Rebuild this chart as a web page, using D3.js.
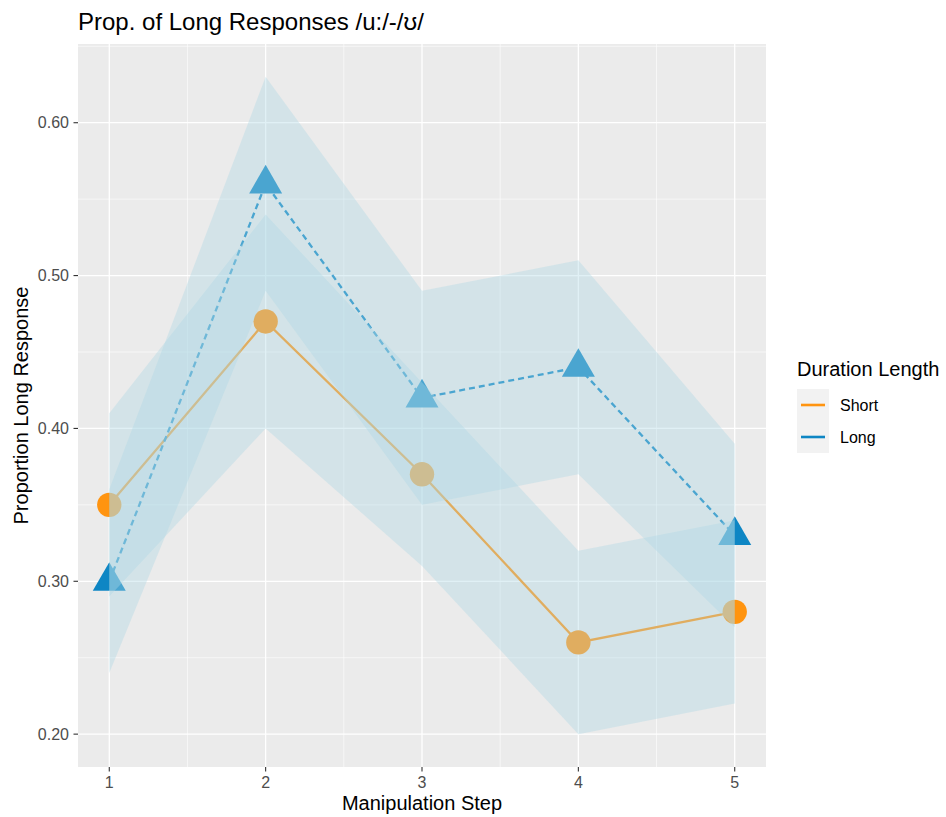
<!DOCTYPE html>
<html>
<head>
<meta charset="utf-8">
<script src="https://cdn.jsdelivr.net/npm/d3@7"></script>
<style>
  html, body { margin: 0; padding: 0; background: #ffffff; }
  svg { display: block; font-family: "Liberation Sans", Arial, Helvetica, sans-serif; }
</style>
</head>
<body>
<svg id="chart" width="946" height="817"></svg>
<script>
// Manipulation steps and proportion of "long" responses per duration condition
const steps = [1, 2, 3, 4, 5];
const shortMean  = [0.35, 0.47, 0.37, 0.26, 0.28];
const shortLower = [0.29, 0.40, 0.31, 0.20, 0.22];
const shortUpper = [0.41, 0.54, 0.43, 0.32, 0.34];
const longMean   = [0.30, 0.56, 0.42, 0.44, 0.33];
const longLower  = [0.24, 0.49, 0.35, 0.37, 0.27];
const longUpper  = [0.36, 0.63, 0.49, 0.51, 0.39];
const yTicks = [0.20, 0.30, 0.40, 0.50, 0.60];
const yMinor = [0.25, 0.35, 0.45, 0.55, 0.65];
const xMinor = [1.5, 2.5, 3.5, 4.5];
const seriesNames = ["Short", "Long"];

const colShort = "#FF9410";
const colLong = "#0E86C4";

const svg = d3.select("#chart");
const panel = { left: 78, right: 766, top: 44, bottom: 767 };

// ggplot-style 5% expansion around the data range
const allVals = shortLower.concat(shortUpper, longLower, longUpper, shortMean, longMean);
const yMin = d3.min(allVals), yMax = d3.max(allVals);
const yPad = (yMax - yMin) * 0.05;
const xPad = (d3.max(steps) - d3.min(steps)) * 0.05;

const x = d3.scaleLinear()
  .domain([d3.min(steps) - xPad, d3.max(steps) + xPad])
  .range([panel.left, panel.right]);
const y = d3.scaleLinear()
  .domain([yMin - yPad, yMax + yPad])
  .range([panel.bottom, panel.top]);

// panel background
svg.append("rect")
  .attr("x", panel.left).attr("y", panel.top)
  .attr("width", panel.right - panel.left)
  .attr("height", panel.bottom - panel.top)
  .attr("fill", "#EBEBEB");

const grid = svg.append("g");
grid.selectAll(".ym").data(yMinor.filter(v => v <= y.domain()[1])).join("line")
  .attr("x1", panel.left).attr("x2", panel.right)
  .attr("y1", d => y(d)).attr("y2", d => y(d))
  .attr("stroke", "#ffffff").attr("stroke-width", 0.6);
grid.selectAll(".xm").data(xMinor).join("line")
  .attr("y1", panel.top).attr("y2", panel.bottom)
  .attr("x1", d => x(d)).attr("x2", d => x(d))
  .attr("stroke", "#ffffff").attr("stroke-width", 0.6);
grid.selectAll(".yM").data(yTicks).join("line")
  .attr("x1", panel.left).attr("x2", panel.right)
  .attr("y1", d => y(d)).attr("y2", d => y(d))
  .attr("stroke", "#ffffff").attr("stroke-width", 1.3);
grid.selectAll(".xM").data(steps).join("line")
  .attr("y1", panel.top).attr("y2", panel.bottom)
  .attr("x1", d => x(d)).attr("x2", d => x(d))
  .attr("stroke", "#ffffff").attr("stroke-width", 1.3);

const series = [
  { name: "Short", mean: shortMean, lo: shortLower, hi: shortUpper, color: colShort, dash: null, shape: "circle" },
  { name: "Long", mean: longMean, lo: longLower, hi: longUpper, color: colLong, dash: "6,4", shape: "triangle" }
];

const line = d3.line().x(d => x(d.s)).y(d => y(d.v));
const area = d3.area().x(d => x(d.s)).y0(d => y(d.lo)).y1(d => y(d.hi));

// lines
series.forEach(s => {
  svg.append("path")
    .datum(steps.map((st, i) => ({ s: st, v: s.mean[i] })))
    .attr("d", line)
    .attr("fill", "none")
    .attr("stroke", s.color)
    .attr("stroke-width", 2.3)
    .attr("stroke-dasharray", s.dash);
});

// points
const triSide = 33, triH = triSide * Math.sqrt(3) / 2;
series.forEach(s => {
  const pts = steps.map((st, i) => ({ s: st, v: s.mean[i] }));
  if (s.shape === "circle") {
    svg.append("g").selectAll("circle").data(pts).join("circle")
      .attr("cx", d => x(d.s)).attr("cy", d => y(d.v)).attr("r", 12.2)
      .attr("fill", s.color);
  } else {
    svg.append("g").selectAll("path").data(pts).join("path")
      .attr("transform", d => `translate(${x(d.s)},${y(d.v)})`)
      .attr("d", `M0,${-2 * triH / 3}L${triSide / 2},${triH / 3}L${-triSide / 2},${triH / 3}Z`)
      .attr("fill", s.color);
  }
});

// confidence ribbons drawn over the lines and points
series.forEach(s => {
  svg.append("path")
    .datum(steps.map((st, i) => ({ s: st, lo: s.lo[i], hi: s.hi[i] })))
    .attr("d", area)
    .attr("fill", "#ADD8E6")
    .attr("fill-opacity", 0.38);
});

// axes
const tickColor = "#333333";
const labelColor = "#4D4D4D";
const yAxis = svg.append("g");
yAxis.selectAll("line").data(yTicks).join("line")
  .attr("x1", panel.left - 4.5).attr("x2", panel.left)
  .attr("y1", d => y(d)).attr("y2", d => y(d))
  .attr("stroke", tickColor).attr("stroke-width", 1.1);
yAxis.selectAll("text").data(yTicks).join("text")
  .attr("x", panel.left - 9).attr("y", d => y(d))
  .attr("dy", "0.35em").attr("text-anchor", "end")
  .attr("font-size", 16).attr("fill", labelColor)
  .text(d => d3.format(".2f")(d));

const xAxis = svg.append("g");
xAxis.selectAll("line").data(steps).join("line")
  .attr("y1", panel.bottom).attr("y2", panel.bottom + 4.5)
  .attr("x1", d => x(d)).attr("x2", d => x(d))
  .attr("stroke", tickColor).attr("stroke-width", 1.1);
xAxis.selectAll("text").data(steps).join("text")
  .attr("x", d => x(d)).attr("y", 788)
  .attr("text-anchor", "middle")
  .attr("font-size", 16).attr("fill", labelColor)
  .text(d => d);

// axis titles
svg.append("text")
  .attr("x", (panel.left + panel.right) / 2).attr("y", 810)
  .attr("text-anchor", "middle").attr("font-size", 20).attr("fill", "#000")
  .text("Manipulation Step");
svg.append("text")
  .attr("transform", `translate(28,${(panel.top + panel.bottom) / 2}) rotate(-90)`)
  .attr("text-anchor", "middle").attr("font-size", 20).attr("fill", "#000")
  .text("Proportion Long Response");

// title
svg.append("text")
  .attr("x", panel.left).attr("y", 30)
  .attr("font-size", 24).attr("fill", "#000")
  .text("Prop. of Long Responses /u:/-/ʊ/");

// legend
const lg = svg.append("g").attr("transform", "translate(797,0)");
lg.append("text").attr("x", 0).attr("y", 376)
  .attr("font-size", 20).attr("fill", "#000").text("Duration Length");
const keyColors = [colShort, colLong];
seriesNames.forEach((name, i) => {
  const ky = 389 + i * 32;
  lg.append("rect").attr("x", 0).attr("y", ky).attr("width", 32).attr("height", 32)
    .attr("fill", "#F2F2F2");
  lg.append("line").attr("x1", 4).attr("x2", 28)
    .attr("y1", ky + 16).attr("y2", ky + 16)
    .attr("stroke", keyColors[i]).attr("stroke-width", 2.6);
  lg.append("text").attr("x", 43).attr("y", ky + 16).attr("dy", "0.35em")
    .attr("font-size", 16).attr("fill", "#000").text(name);
});
</script>
</body>
</html>
